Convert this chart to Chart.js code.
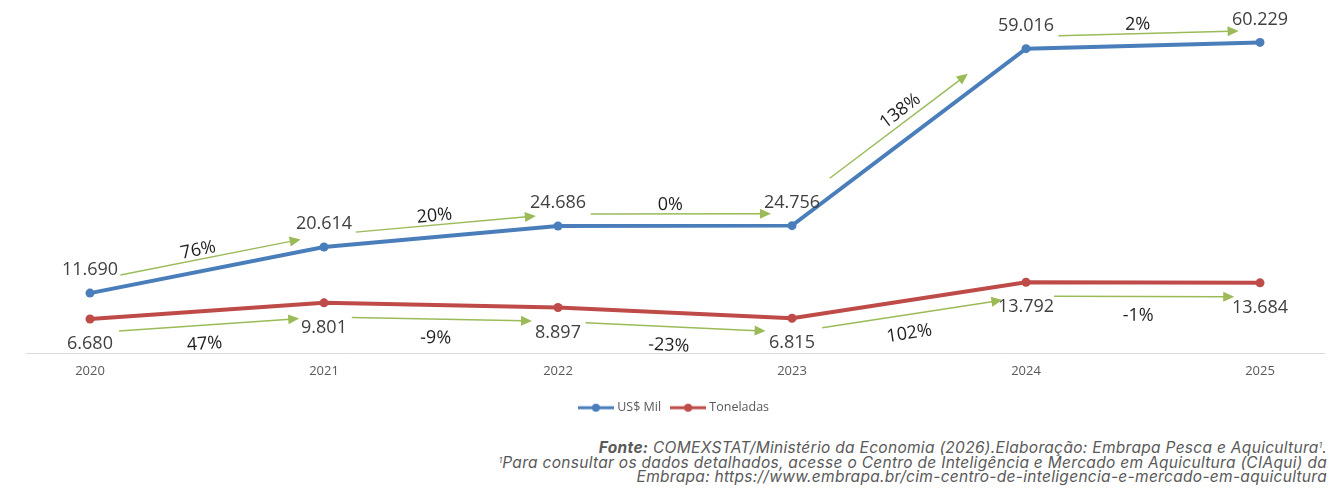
<!DOCTYPE html>
<html lang="pt-BR">
<head>
<meta charset="utf-8">
<script src="https://cdn.jsdelivr.net/npm/chart.js@4.4.1/dist/chart.umd.min.js"></script>
<style>
    body { margin: 0; background: #fff; }
    #wrap { position: relative; width: 1335px; height: 424px; }
    #fonte {
        position: absolute; right: 8px; top: 441px;
        font-family: Inter, "Noto Sans", sans-serif; font-style: italic;
        font-size: 15.5px; letter-spacing: 0.3px; line-height: 14.5px; color: #595959; text-align: right;
    }
    #fonte sup { font-size: 8px; line-height: 0; vertical-align: 5px; }
</style>
</head>
<body>
<div id="wrap"><canvas id="chart"></canvas></div>
<div id="fonte">
    <b>Fonte:</b> COMEXSTAT/Ministério da Economia (2026).Elaboração: Embrapa Pesca e Aquicultura<sup>1</sup>.<br>
    <sup>1</sup>Para consultar os dados detalhados, acesse o Centro de Inteligência e Mercado em Aquicultura (CIAqui) da<br>
    Embrapa: https://www.embrapa.br/cim-centro-de-inteligencia-e-mercado-em-aquicultura
</div>
<script>
// dados
const anos = [2020, 2021, 2022, 2023, 2024, 2025];
const usMil = [11690, 20614, 24686, 24756, 59016, 60229];
const toneladas = [6680, 9801, 8897, 6815, 13792, 13684];
// variação anual (setas verdes)
const varUsMil = ['76%', '20%', '0%', '138%', '2%'];
const varToneladas = ['47%', '-9%', '-23%', '102%', '-1%'];

const azul = '#4a7ebb';
const vermelho = '#be4b48';
const verde = '#9bbb59';

function formata(v) {
    return String(v).replace(/\B(?=(\d{3})+(?!\d))/g, '.');
}

// símbolo da legenda: linha com bolinha
function iconeLegenda(cor) {
    const c = document.createElement('canvas');
    c.width = 36; c.height = 10;
    const g = c.getContext('2d');
    g.strokeStyle = cor; g.lineWidth = 3;
    g.beginPath(); g.moveTo(0, 5); g.lineTo(36, 5); g.stroke();
    g.fillStyle = cor;
    g.beginPath(); g.arc(18, 5, 4, 0, Math.PI * 2); g.fill();
    return c;
}

// rótulos de valor
const rotulosValor = {
    id: 'rotulosValor',
    afterDatasetsDraw(chart) {
        const ctx = chart.ctx;
        ctx.save();
        ctx.font = '18px "Open Sans"';
        ctx.fillStyle = '#404040';
        ctx.textAlign = 'center';
        ctx.textBaseline = 'middle';
        chart.data.datasets.forEach((ds, i) => {
            const desl = i === 0 ? -23 : 25;
            chart.getDatasetMeta(i).data.forEach((p, j) => {
                ctx.fillText(formata(ds.data[j].y), p.x, p.y + desl);
            });
        });
        ctx.restore();
    }
};

// setas de variação
const setas = {
    id: 'setas',
    afterDatasetsDraw(chart) {
        const ctx = chart.ctx;
        const conf = [
            { txt: varUsMil, lado: 1, seta: 12, rot: 21, t0: 0.14, t1: 0.91 },
            { txt: varToneladas, lado: -1, seta: 14, rot: 33, t0: 0.12, t1: 0.89 }
        ];
        ctx.save();
        conf.forEach((c, i) => {
            const pts = chart.getDatasetMeta(i).data;
            for (let j = 0; j < pts.length - 1; j++) {
                const a = pts[j], b = pts[j + 1];
                const dx = b.x - a.x, dy = b.y - a.y;
                const len = Math.hypot(dx, dy);
                const ux = dx / len, uy = dy / len;
                const nx = uy * c.lado, ny = -ux * c.lado;
                // segmento íngreme: seta mais curta e mais afastada
                const ingreme = Math.abs(uy) > 0.4;
                const t0 = ingreme ? 0.2 : c.t0, t1 = ingreme ? 0.79 : c.t1;
                const off = ingreme ? 15 : c.seta;
                const tr = ingreme ? 0.53 : 0.48, offR = ingreme ? 26 : c.rot;
                const x0 = a.x + dx * t0 + nx * off, y0 = a.y + dy * t0 + ny * off;
                const x1 = a.x + dx * t1 + nx * off, y1 = a.y + dy * t1 + ny * off;
                ctx.strokeStyle = verde;
                ctx.fillStyle = verde;
                ctx.lineWidth = 1.5;
                ctx.beginPath(); ctx.moveTo(x0, y0); ctx.lineTo(x1 - ux * 9, y1 - uy * 9); ctx.stroke();
                ctx.beginPath();
                ctx.moveTo(x1, y1);
                ctx.lineTo(x1 - ux * 11 - uy * 5, y1 - uy * 11 + ux * 5);
                ctx.lineTo(x1 - ux * 11 + uy * 5, y1 - uy * 11 - ux * 5);
                ctx.closePath(); ctx.fill();

                const tx = a.x + dx * tr + nx * offR, ty = a.y + dy * tr + ny * offR;
                ctx.save();
                ctx.translate(tx, ty);
                ctx.rotate(Math.atan2(dy, dx));
                ctx.font = '18px "Open Sans"';
                ctx.fillStyle = '#1e1e1e';
                ctx.textAlign = 'center';
                ctx.textBaseline = 'middle';
                ctx.fillText(c.txt[j], 0, 0);
                ctx.restore();
            }
        });
        ctx.restore();
    }
};

const ctx = document.getElementById('chart').getContext('2d');
const grafico = new Chart(ctx, {
    type: 'line',
    data: {
        datasets: [{
            label: 'US$ Mil',
            data: anos.map((a, i) => ({ x: a, y: usMil[i] })),
            borderColor: azul,
            backgroundColor: azul,
            borderWidth: 4,
            pointRadius: 4.5,
            pointBorderWidth: 0,
            pointBackgroundColor: azul
        }, {
            label: 'Toneladas',
            data: anos.map((a, i) => ({ x: a, y: toneladas[i] })),
            borderColor: vermelho,
            backgroundColor: vermelho,
            borderWidth: 4,
            pointRadius: 4.5,
            pointBorderWidth: 0,
            pointBackgroundColor: vermelho
        }]
    },
    options: {
        responsive: true,
        maintainAspectRatio: false,
        animation: false,
        layout: { padding: { top: 10, left: 26, right: 11, bottom: 0 } },
        scales: {
            x: {
                type: 'linear',
                min: 2019.7265,
                max: 2025.2735,
                afterBuildTicks: s => { s.ticks = anos.map(v => ({ value: v })); },
                afterFit: s => { s.height = 36; },
                grid: { display: false, drawTicks: false },
                border: { display: true, color: '#d9d9d9', width: 1 },
                ticks: {
                    padding: 10,
                    color: '#595959',
                    font: { family: '"Open Sans"', size: 13 },
                    callback: v => String(v)
                }
            },
            y: {
                display: false,
                min: 0,
                max: 66500
            }
        },
        plugins: {
            tooltip: { enabled: false },
            legend: {
                position: 'bottom',
                labels: {
                    usePointStyle: true,
                    pointStyleWidth: 30,
                    padding: 12,
                    color: '#595959',
                    font: { family: '"Open Sans"', size: 12.5 },
                    generateLabels: chart => chart.data.datasets.map((ds, i) => ({
                        text: ds.label,
                        fillStyle: ds.borderColor,
                        strokeStyle: ds.borderColor,
                        fontColor: '#595959',
                        pointStyle: iconeLegenda(ds.borderColor),
                        datasetIndex: i,
                        hidden: false
                    }))
                }
            }
        }
    },
    plugins: [rotulosValor, setas]
});
</script>
</body>
</html>
